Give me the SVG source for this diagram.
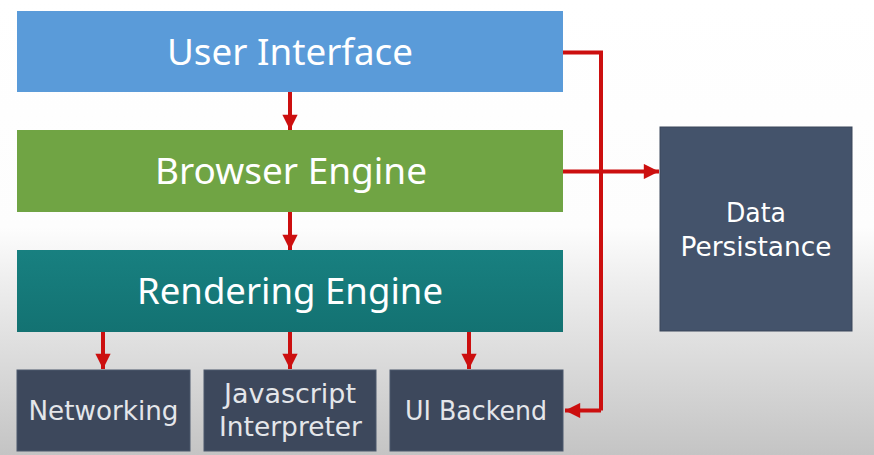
<svg xmlns="http://www.w3.org/2000/svg" width="874" height="455" viewBox="0 0 874 455">
  <defs>
    <linearGradient id="bg" x1="0" y1="0" x2="0" y2="455" gradientUnits="userSpaceOnUse">
      <stop offset="0" stop-color="#ffffff"/>
      <stop offset="0.5" stop-color="#fdfdfd"/>
      <stop offset="0.62" stop-color="#eeeeee"/>
      <stop offset="1" stop-color="#c4c4c4"/>
    </linearGradient>
    <linearGradient id="teal" x1="0" y1="0" x2="0" y2="1">
      <stop offset="0" stop-color="#188080"/>
      <stop offset="1" stop-color="#137272"/>
    </linearGradient>
    <marker id="ah" viewBox="0 0 10 10" refX="10" refY="5" markerWidth="4" markerHeight="3.8" orient="auto" markerUnits="strokeWidth">
      <path d="M0,0 L10,5 L0,10 Z" fill="#cc0f0f"/>
    </marker>
    <style>
      .big { font-family: "Noto Sans", "Liberation Sans", sans-serif; font-size: 36px; fill: #ffffff; text-anchor: middle; }
      .small { font-family: "DejaVu Sans", "Liberation Sans", sans-serif; font-size: 27px; fill: #e4e6ea; text-anchor: middle; }
      .light { fill: #ffffff; }
      .dark { fill: #3d485c; stroke: #4c586c; stroke-width: 1; }
      .link { fill: none; stroke: #cc0f0f; stroke-width: 4; marker-end: url(#ah); }
      .line { fill: none; stroke: #cc0f0f; stroke-width: 4; }
    </style>
  </defs>
  <rect x="0" y="0" width="874" height="455" fill="url(#bg)"/>

  <g id="connectors">
    <path class="line" d="M563,52.5 H601 V410.5"/>
    <path class="link" d="M601,410.5 H565"/>
    <path class="link" d="M563,171.5 H659"/>
    <path class="link" d="M290,92 V130"/>
    <path class="link" d="M290,212 V250"/>
    <path class="link" d="M103,332 V369"/>
    <path class="link" d="M290,332 V369"/>
    <path class="link" d="M469,332 V369"/>
  </g>

  <g id="user-interface">
    <rect x="17" y="11" width="546" height="81" fill="#5a9bd9"/>
    <text class="big" x="290" y="65" textLength="246" lengthAdjust="spacingAndGlyphs">User Interface</text>
  </g>
  <g id="browser-engine">
    <rect x="17" y="130" width="546" height="82" fill="#70a444"/>
    <text class="big" x="291" y="184" textLength="272" lengthAdjust="spacingAndGlyphs">Browser Engine</text>
  </g>
  <g id="rendering-engine">
    <rect x="17" y="250" width="546" height="82" fill="url(#teal)"/>
    <text class="big" x="290" y="304" textLength="306" lengthAdjust="spacingAndGlyphs">Rendering Engine</text>
  </g>
  <g id="networking">
    <rect class="dark" x="17" y="370" width="173" height="81"/>
    <text class="small" x="103.5" y="420" textLength="150" lengthAdjust="spacingAndGlyphs">Networking</text>
  </g>
  <g id="javascript-interpreter">
    <rect class="dark" x="204" y="370" width="172" height="81"/>
    <text class="small" x="290" y="403" textLength="132" lengthAdjust="spacingAndGlyphs">Javascript</text>
    <text class="small" x="290.5" y="436" textLength="143" lengthAdjust="spacingAndGlyphs">Interpreter</text>
  </g>
  <g id="ui-backend">
    <rect class="dark" x="390" y="370" width="173" height="81"/>
    <text class="small" x="476" y="420" textLength="142" lengthAdjust="spacingAndGlyphs">UI Backend</text>
  </g>
  <g id="data-persistance">
    <rect x="660" y="127" width="192" height="204" fill="#44536b" stroke="#3a465a" stroke-width="1"/>
    <text class="small light" x="756" y="222" textLength="60" lengthAdjust="spacingAndGlyphs">Data</text>
    <text class="small light" x="756" y="256" textLength="151" lengthAdjust="spacingAndGlyphs">Persistance</text>
  </g>
</svg>
